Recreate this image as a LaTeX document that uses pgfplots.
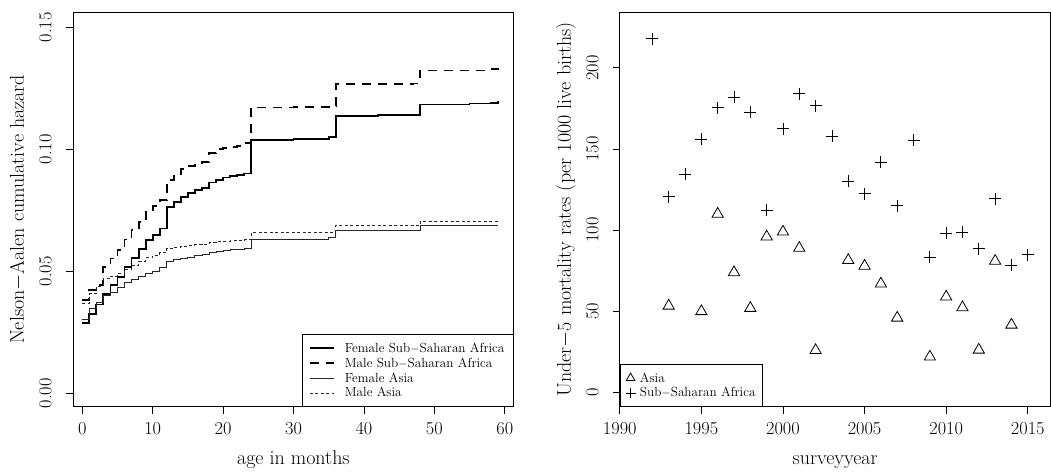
\documentclass[border=0pt]{standalone}
\usepackage{pgfplots}
\pgfplotsset{compat=1.18}
\usepackage{pgfplotstable}

\pgfplotstableread{
m v
0 0.0288
1 0.0326
2 0.0364
3 0.0408
4 0.0445
5 0.0477
6 0.0518
7 0.0555
8 0.0590
9 0.0627
10 0.0650
11 0.0675
12 0.0762
13 0.0785
14 0.0805
15 0.0822
16 0.0833
17 0.0840
18 0.0864
19 0.0874
20 0.0884
21 0.0890
22 0.0896
23 0.0901
24 0.1038
30 0.1043
35 0.1050
36 0.1136
42 0.1139
47 0.1142
48 0.1184
55 0.1188
58 0.1191
59 0.1196
}\fssa

\pgfplotstableread{
m v
0 0.0381
1 0.0422
2 0.0442
3 0.0518
4 0.0552
5 0.0586
6 0.0630
7 0.0668
8 0.0703
9 0.0744
10 0.0767
11 0.0792
12 0.0874
13 0.0892
14 0.0918
15 0.0930
16 0.0935
17 0.0947
18 0.0984
19 0.1001
20 0.1005
21 0.1010
22 0.1015
23 0.1025
24 0.1171
30 0.1174
35 0.1178
36 0.1267
47 0.1270
48 0.1323
58 0.1328
59 0.1333
}\mssa

\pgfplotstableread{
m v
0 0.0303
1 0.0347
2 0.0374
3 0.0401
4 0.0412
5 0.0433
6 0.0452
7 0.0466
8 0.0480
9 0.0490
10 0.0501
11 0.0514
12 0.0540
13 0.0549
14 0.0553
15 0.0558
16 0.0563
17 0.0567
18 0.0577
19 0.0582
20 0.0585
21 0.0588
22 0.0590
23 0.0592
24 0.0630
35 0.0638
36 0.0668
48 0.0689
59 0.0689
}\fasia

\pgfplotstableread{
m v
0 0.0367
1 0.0408
2 0.0436
3 0.0470
4 0.0480
5 0.0490
6 0.0507
7 0.0525
8 0.0542
9 0.0555
10 0.0566
11 0.0577
12 0.0593
13 0.0598
14 0.0602
15 0.0605
16 0.0608
17 0.0610
18 0.0618
19 0.0621
20 0.0623
21 0.0625
22 0.0627
23 0.0629
24 0.0658
36 0.0688
48 0.0705
59 0.0705
}\masia

\pgfplotstableread{
year u5
1993 53.4
1995 50
1996 110
1997 74
1998 52
1999 96
2000 99
2001 89
2002 26
2004 81.5
2005 78
2006 67
2007 46
2009 22
2010 59
2011 52.4
2012 26.3
2013 81
2014 41.7
}\asia

\pgfplotstableread{
year u5
1992 218
1993 120.7
1994 134.5
1995 156
1996 175.4
1997 182
1998 172.5
1999 112.5
2000 162.4
2001 184
2002 176.6
2003 158
2004 130
2005 122.4
2006 142
2007 115
2008 155.6
2009 83.4
2010 98
2011 98.8
2012 88.7
2013 119.3
2014 78.6
2015 84.8
}\ssa

\pgfplotsset{
  rstyle/.style={
    scale only axis,
    anchor=south west,
    tick align=outside,
    tick pos=left,
    major tick length=7pt,
    tick style={black, line width=0.8pt},
    axis line style={black, line width=0.8pt},
    ticklabel style={font=\fontsize{18.3}{18.3}\selectfont, inner sep=0pt},
    xticklabel style={anchor=north, text height=20.5pt, text depth=0pt},
    yticklabel style={xshift=-14pt, rotate=90, anchor=south},
    label style={font=\fontsize{20}{20}\selectfont},
    legend cell align=left,
  }
}

\begin{document}
\begin{tikzpicture}
\path (-73pt,-63pt) rectangle (978pt,407pt);

\begin{axis}[rstyle,
  at={(0pt,0pt)}, width=441pt, height=395pt,
  xmin=-1.32, xmax=61.28, ymin=-0.0056, ymax=0.1563,
  xtick={0,10,20,30,40,50,60}, xticklabels={0,10,20,30,40,50,60},
  ytick={0,0.05,0.1,0.15}, yticklabels={0.00,0.05,0.10,0.15},
  xlabel={age in months},
  ylabel={Nelson$-$Aalen cumulative hazard},
  xlabel style={at={(axis description cs:0.5,-0.147)}, anchor=base},
  ylabel style={at={(axis description cs:-0.1111,0.5)}, anchor=base},
  legend style={at={(rel axis cs:1,0)}, anchor=south east, draw=black, line width=0.8pt,
    font=\fontsize{13.2}{13.2}\selectfont, inner xsep=7pt, inner ysep=6pt, row sep=0pt},
  legend image code/.code={\draw[#1] (0pt,0pt) -- (24pt,0pt); \path (32pt,0pt);},
]
\addplot[const plot, black, line width=1.8pt] table[x=m,y=v] {\fssa};
\addlegendentry{Female Sub$-$Saharan Africa}
\addplot[const plot, black, line width=1.8pt, dash pattern=on 9pt off 7pt] table[x=m,y=v] {\mssa};
\addlegendentry{Male Sub$-$Saharan Africa}
\addplot[const plot, black!85, line width=0.9pt] table[x=m,y=v] {\fasia};
\addlegendentry{Female Asia}
\addplot[const plot, black!85, line width=0.9pt, dash pattern=on 3pt off 2.5pt] table[x=m,y=v] {\masia};
\addlegendentry{Male Asia}
\end{axis}

\begin{axis}[rstyle,
  at={(547pt,0pt)}, width=431pt, height=395pt,
  xmin=1990, xmax=2016.4, ymin=-8.8, ymax=234.4,
  xtick={1990,1995,2000,2005,2010,2015}, xticklabels={1990,1995,2000,2005,2010,2015},
  ytick={0,50,100,150,200}, yticklabels={0,50,100,150,200},
  xlabel={surveyyear},
  ylabel={Under$-$5 mortality rates (per 1000 live births)},
  xlabel style={at={(axis description cs:0.5,-0.147)}, anchor=base},
  ylabel style={at={(axis description cs:-0.1137,0.5)}, anchor=base},
  legend style={at={(rel axis cs:0,0)}, anchor=south west, draw=black, line width=0.8pt,
    font=\fontsize{13.2}{13.2}\selectfont, inner xsep=5pt, inner ysep=6pt, row sep=0pt},
  legend image code/.code={\draw[#1, mark size=5pt] plot coordinates {(5pt,0pt)}; \path (0pt,0pt) (12pt,0pt);},
]
\addplot[only marks, mark=triangle, mark size=6.5pt, black, mark options={line width=0.8pt}] table[x=year,y=u5] {\asia};
\addlegendentry{Asia}
\addplot[only marks, mark=+, mark size=6pt, black, mark options={line width=0.8pt}] table[x=year,y=u5] {\ssa};
\addlegendentry{Sub$-$Saharan Africa}
\end{axis}
\end{tikzpicture}
\end{document}
